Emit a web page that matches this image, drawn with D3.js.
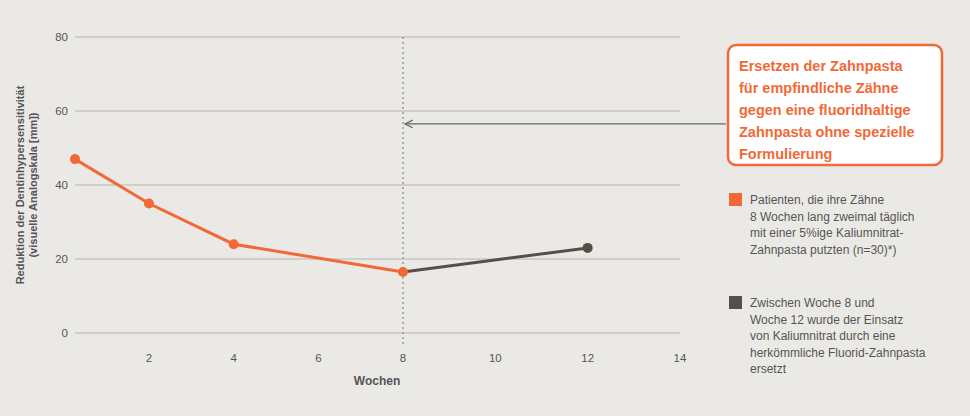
<!DOCTYPE html>
<html><head><meta charset="utf-8">
<script src="https://cdn.jsdelivr.net/npm/d3@7"></script>
<style>
body{margin:0;background:#ebe9e6;font-family:"Liberation Sans",Arial,sans-serif}
</style></head><body>
<svg id="c" width="970" height="416"></svg>
<script>
// data
const weeksA = [0, 2, 4, 8];
const valuesA = [47, 35, 24, 16.5];
const weeksB = [8, 12];
const valuesB = [16.5, 23];
const xTicks = [2, 4, 6, 8, 10, 12, 14];
const yTicks = [0, 20, 40, 60, 80];
const boxLines = ["Ersetzen der Zahnpasta", "für empfindliche Zähne", "gegen eine fluoridhaltige", "Zahnpasta ohne spezielle", "Formulierung"];
const legendA = ["Patienten, die ihre Zähne", "8 Wochen lang zweimal täglich", "mit einer 5%ige Kaliumnitrat-", "Zahnpasta putzten (n=30)*)"];
const legendB = ["Zwischen Woche 8 und", "Woche 12 wurde der Einsatz", "von Kaliumnitrat durch eine", "herkömmliche Fluorid-Zahnpasta", "ersetzt"];

const orange = "#f26836", dark = "#554f47", grey = "#555";
const svg = d3.select("#c");
const x = d3.scaleLinear().domain([0, 2, 8, 14]).range([75, 149, 403, 680]);
const y = d3.scaleLinear().domain([0, 80]).range([333, 37]);

// grid
svg.append("g").selectAll("line").data(yTicks).join("line")
  .attr("x1", 75).attr("x2", 680).attr("y1", d => y(d)).attr("y2", d => y(d))
  .attr("stroke", "#b8b4ae").attr("stroke-width", 1);
svg.append("g").selectAll("text").data(yTicks).join("text")
  .attr("x", 68).attr("y", d => y(d) + 4).attr("text-anchor", "end")
  .attr("font-size", 11.5).attr("fill", grey).text(d => d);
svg.append("g").selectAll("text").data(xTicks).join("text")
  .attr("x", d => x(d)).attr("y", 362).attr("text-anchor", "middle")
  .attr("font-size", 11.5).attr("fill", grey).text(d => d);
svg.append("text").attr("x", 377).attr("y", 385).attr("text-anchor", "middle")
  .attr("font-size", 12).attr("font-weight", "bold").attr("fill", grey).text("Wochen");
const yl = svg.append("text").attr("transform", "translate(24,185) rotate(-90)")
  .attr("text-anchor", "middle").attr("font-size", 11).attr("font-weight", "bold").attr("fill", grey);
yl.append("tspan").attr("x", 0).attr("dy", 0).text("Reduktion der  Dentinhypersensitivität");
yl.append("tspan").attr("x", 0).attr("dy", 13).text("(visuelle Analogskala [mm])");

// dashed vertical at week 8
svg.append("line").attr("x1", x(8)).attr("x2", x(8)).attr("y1", y(80)).attr("y2", 345)
  .attr("stroke", "#999").attr("stroke-dasharray", "2,3").attr("stroke-width", 1.5);

// arrow
svg.append("defs").append("marker").attr("id", "ah").attr("viewBox", "0 0 10 10")
  .attr("refX", 9).attr("refY", 5).attr("markerWidth", 8).attr("markerHeight", 8).attr("orient", "auto")
  .append("path").attr("d", "M1,1 L9,5 L1,9").attr("fill", "none").attr("stroke", "#666").attr("stroke-width", 1.3);
svg.append("line").attr("x1", 726).attr("x2", x(8) + 2).attr("y1", y(56.5)).attr("y2", y(56.5))
  .attr("stroke", "#666").attr("stroke-width", 1.2).attr("marker-end", "url(#ah)");

// lines
const line = d3.line().x(d => x(d[0])).y(d => y(d[1]));
const dataA = d3.zip(weeksA, valuesA), dataB = d3.zip(weeksB, valuesB);
svg.append("path").datum(dataB).attr("d", line).attr("fill", "none").attr("stroke", dark).attr("stroke-width", 3);
svg.append("path").datum(dataA).attr("d", line).attr("fill", "none").attr("stroke", orange).attr("stroke-width", 3);
svg.append("g").selectAll("circle").data(dataB.slice(1)).join("circle")
  .attr("cx", d => x(d[0])).attr("cy", d => y(d[1])).attr("r", 5).attr("fill", dark);
svg.append("g").selectAll("circle").data(dataA).join("circle")
  .attr("cx", d => x(d[0])).attr("cy", d => y(d[1])).attr("r", 5).attr("fill", orange);

// callout box
svg.append("rect").attr("x", 728).attr("y", 45).attr("width", 214).attr("height", 120).attr("rx", 8)
  .attr("fill", "#fff").attr("stroke", orange).attr("stroke-width", 2.5);
svg.append("g").selectAll("text").data(boxLines).join("text")
  .attr("x", 739).attr("y", (d, i) => 71 + i * 22).attr("font-size", 14.5).attr("font-weight", "bold")
  .attr("fill", orange).text(d => d);

// legend
function legend(lines, color, top) {
  svg.append("rect").attr("x", 729).attr("y", top).attr("width", 13).attr("height", 13).attr("fill", color);
  svg.append("g").selectAll("text").data(lines).join("text")
    .attr("x", 750).attr("y", (d, i) => top + 11 + i * 16.5).attr("font-size", 12).attr("fill", grey).text(d => d);
}
legend(legendA, orange, 193);
legend(legendB, dark, 296);
</script></body></html>
